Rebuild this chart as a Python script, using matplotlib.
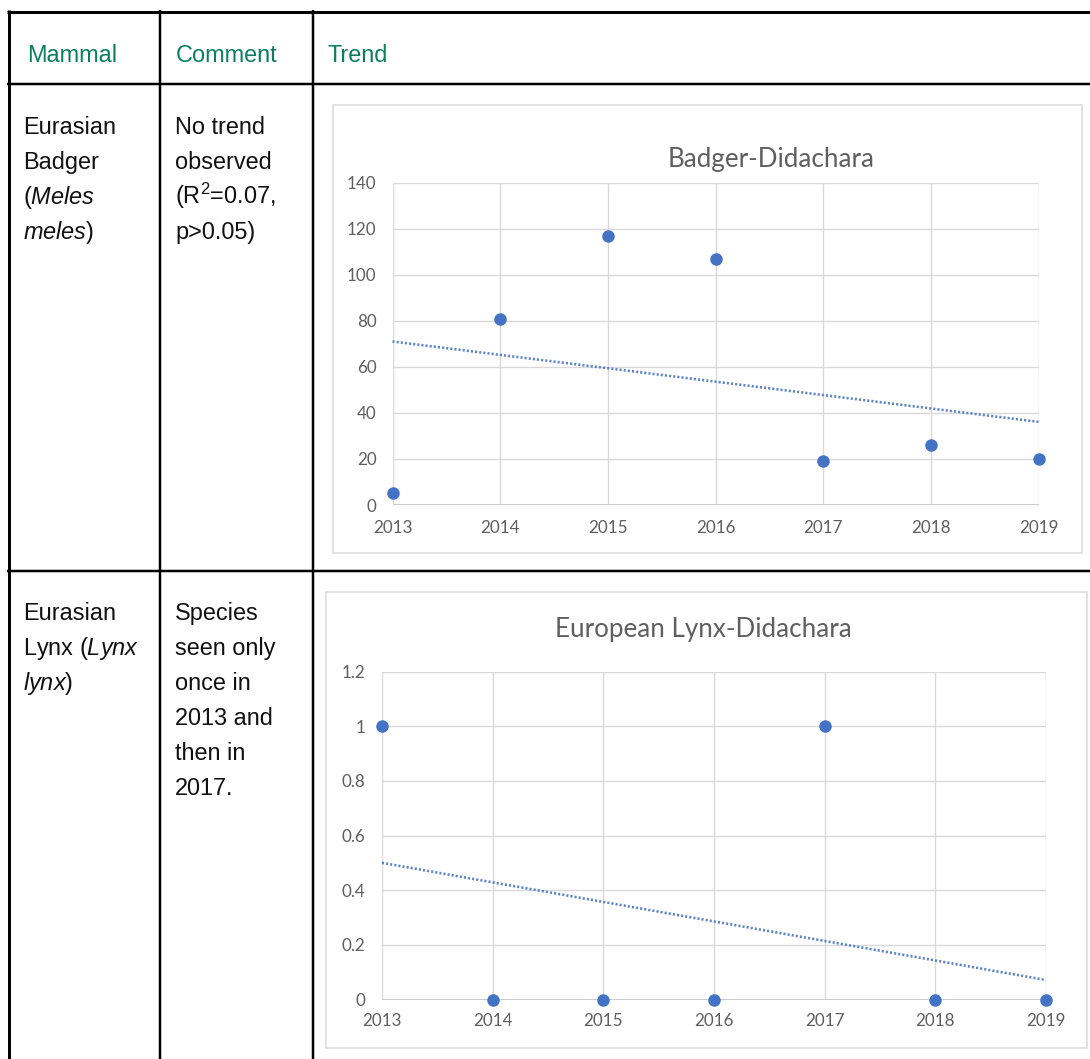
import numpy as np
import matplotlib
matplotlib.use("Agg")
import matplotlib.pyplot as plt
from matplotlib.patches import Rectangle

# ---- data -------------------------------------------------------------
years = [2013, 2014, 2015, 2016, 2017, 2018, 2019]
badger_counts = [5, 81, 117, 107, 19, 26, 20]
lynx_counts = [1, 0, 0, 0, 1, 0, 0]

badger_yticks = [0, 20, 40, 60, 80, 100, 120, 140]
badger_ylabels = ["0", "20", "40", "60", "80", "100", "120", "140"]
lynx_yticks = [0, 0.2, 0.4, 0.6, 0.8, 1.0, 1.2]
lynx_ylabels = ["0", "0.2", "0.4", "0.6", "0.8", "1", "1.2"]

headers = ["Mammal", "Comment", "Trend"]
row1_mammal = ["Eurasian", "Badger", r"($\mathit{Meles}$", r"$\mathit{meles}$)"]
row1_comment = ["No trend", "observed", r"(R$^{2}$=0.07,", "p>0.05)"]
row2_mammal = ["Eurasian", r"Lynx ($\mathit{Lynx}$", r"$\mathit{lynx}$)"]
row2_comment = ["Species", "seen only", "once in", "2013 and", "then in", "2017."]

# ---- style ------------------------------------------------------------
plt.rcParams["mathtext.fontset"] = "custom"
plt.rcParams["mathtext.rm"] = "Liberation Sans"
plt.rcParams["mathtext.it"] = "Liberation Sans:italic"
plt.rcParams["mathtext.bf"] = "Liberation Sans:bold"
plt.rcParams["mathtext.sf"] = "Liberation Sans"

W, H = 1090, 1059
DPI = 100
PX = 72.0 / DPI  # points per pixel

HEAD_COLOR = "#0a7f5f"
TEXT_COLOR = "#111111"
BLUE = "#4472C4"
GRID = "#d9d9d9"
AXIS = "#bfbfbf"
LABEL = "#5f5f5f"
TABLE_FONT = "Liberation Sans"
CHART_FONT = "Lato"

fig = plt.figure(figsize=(W / DPI, H / DPI), dpi=DPI)
fig.patch.set_facecolor("white")

# overlay axes in pixel coordinates for the table
page = fig.add_axes([0, 0, 1, 1], zorder=0)
page.set_xlim(0, W)
page.set_ylim(H, 0)
page.axis("off")

# table rules
page.plot([7, W], [11.5, 11.5], color="black", lw=3 * PX, solid_capstyle="butt")
page.plot([8.5, 8.5], [10, H], color="black", lw=3 * PX, solid_capstyle="butt")
for xc in (160, 312.5):
    page.plot([xc, xc], [10, H], color="black", lw=2.5 * PX, solid_capstyle="butt")
for yr in (84, 571):
    page.plot([7, W], [yr, yr], color="black", lw=2.5 * PX, solid_capstyle="butt")

# header cells
fs_table = 23.5 * PX
for txt, x in zip(headers, (27, 176, 327)):
    page.text(x, 62, txt, color=HEAD_COLOR, fontsize=fs_table, family=TABLE_FONT,
              va="baseline", ha="left")


def cell_lines(lines, x, y0, step=35):
    for i, line in enumerate(lines):
        page.text(x, y0 + i * step, line, color=TEXT_COLOR, fontsize=fs_table,
                  family=TABLE_FONT, va="baseline", ha="left")


cell_lines(row1_mammal, 23, 134)
cell_lines(row1_comment, 175, 134)
cell_lines(row2_mammal, 23, 620)
cell_lines(row2_comment, 175, 620)

# chart frames
page.add_patch(Rectangle((333, 105), 1082 - 333, 553 - 105, fill=False,
                         edgecolor=GRID, lw=1.5 * PX))
page.add_patch(Rectangle((326, 592), 1087 - 326, 1048 - 592, fill=False,
                         edgecolor=GRID, lw=1.5 * PX))


def chart(x0, x1, ytop, ybot, values, ylim, yticks, ylabels, title, title_x, title_y,
          ypad, xpad):
    ax = fig.add_axes([x0 / W, (H - ybot) / H, (x1 - x0) / W, (ybot - ytop) / H],
                      zorder=1)
    ax.set_facecolor("none")
    ax.set_xlim(years[0], years[-1])
    ax.set_ylim(*ylim)
    ax.set_xticks(years)
    ax.set_xticklabels([str(y) for y in years])
    ax.set_yticks(yticks)
    ax.set_yticklabels(ylabels)
    for s in ax.spines.values():
        s.set_visible(False)
    ax.grid(True, color=GRID, lw=1.4 * PX)
    ax.set_axisbelow(True)
    ax.axhline(ylim[0], color=AXIS, lw=1.5 * PX, zorder=1.5)
    ax.tick_params(axis="both", length=0, labelsize=17 * PX, labelcolor=LABEL)
    ax.tick_params(axis="y", pad=ypad * PX)
    ax.tick_params(axis="x", pad=xpad * PX)
    for lab in ax.get_xticklabels() + ax.get_yticklabels():
        lab.set_family(CHART_FONT)

    # linear trendline
    coef = np.polyfit(years, values, 1)
    xs = np.array([years[0], years[-1]])
    ax.plot(xs, np.polyval(coef, xs), color="#5b84cc", lw=2.6 * PX,
            linestyle=(0, (0.8, 0.8)), zorder=2, clip_on=False)
    ax.plot(years, values, "o", color=BLUE, markersize=12.5 * PX, markeredgewidth=0,
            zorder=3, clip_on=False)

    page.text(title_x, title_y, title, color=LABEL, fontsize=26 * PX,
              family=CHART_FONT, ha="left", va="center")
    return ax


chart(392.5, 1038.7, 182.7, 505, badger_counts, (0, 140), badger_yticks,
      badger_ylabels, "Badger-Didachara", 668, 160, 16, 15)
chart(382, 1045.8, 671.5, 999.5, lynx_counts, (0, 1.2), lynx_yticks,
      lynx_ylabels, "European Lynx-Didachara", 555, 629, 17, 14)

fig.savefig("out.png", dpi=DPI, facecolor="white")
